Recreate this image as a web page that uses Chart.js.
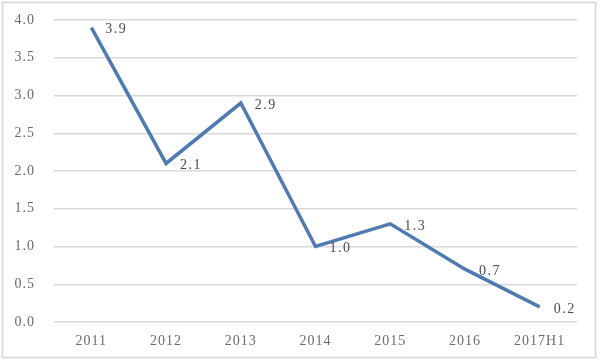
<!DOCTYPE html>
<html><head><meta charset="utf-8">
<script src="https://cdn.jsdelivr.net/npm/chart.js@4"></script>
<style>html,body{margin:0;padding:0;background:#fff}#wrap{width:600px;height:361px}</style>
</head><body><div id="wrap"><canvas id="c" width="600" height="361"></canvas></div>
<script>
const categories = ['2011','2012','2013','2014','2015','2016','2017H1'];
const values = [3.9, 2.1, 2.9, 1.0, 1.3, 0.7, 0.2];
const yTicks = [0, 0.5, 1.0, 1.5, 2.0, 2.5, 3.0, 3.5, 4.0];

const FONT = "'Liberation Serif', 'DejaVu Serif', serif";

const frame = {
  id: 'frame',
  beforeDraw(chart) {
    const ctx = chart.ctx;
    ctx.save();
    ctx.fillStyle = '#fff';
    ctx.fillRect(0, 0, chart.width, chart.height);
    ctx.strokeStyle = '#d4d4d4';
    ctx.lineWidth = 1.5;
    ctx.strokeRect(2.5, 2.5, 593, 355);
    ctx.restore();
    ctx.letterSpacing = '1px';
  }
};

const labels = {
  id: 'labels',
  afterDatasetsDraw(chart) {
    const ctx = chart.ctx;
    const meta = chart.getDatasetMeta(0);
    ctx.save();
    ctx.letterSpacing = '1.5px';
    ctx.font = '14px ' + FONT;
    ctx.fillStyle = '#4a4a4a';
    ctx.textAlign = 'left';
    ctx.textBaseline = 'middle';
    meta.data.forEach((pt, i) => {
      ctx.fillText(values[i].toFixed(1), pt.x + 14, pt.y + 2);
    });
    ctx.restore();
  }
};

new Chart(document.getElementById('c'), {
  type: 'line',
  data: {
    labels: categories,
    datasets: [{
      data: values,
      borderColor: '#4f7bb1',
      borderWidth: 3.5,
      pointRadius: 0,
      tension: 0,
      fill: false
    }]
  },
  options: {
    responsive: false,
    animation: false,
    layout: { padding: { top: 20, right: 23, left: 0, bottom: 0 } },
    plugins: { legend: { display: false }, tooltip: { enabled: false } },
    scales: {
      x: {
        offset: true,
        grid: { display: false, drawTicks: false },
        border: { display: false },
        ticks: { color: '#6b6b6b', font: { family: FONT, size: 14 }, padding: 11, maxRotation: 0 },
        afterFit(s) { s.height = 39; }
      },
      y: {
        min: 0, max: 4,
        afterBuildTicks(s) { s.ticks = yTicks.map(v => ({ value: v })); },
        grid: { color: '#d9d9d9', lineWidth: 1.5, drawTicks: false },
        border: { display: false },
        ticks: { color: '#6b6b6b', font: { family: FONT, size: 14 }, padding: 19,
          callback: v => Number(v).toFixed(1) },
        afterFit(s) { s.width = 54; s.paddingTop = 0; s.paddingBottom = 0; }
      }
    }
  },
  plugins: [frame, labels]
});
</script></body></html>
